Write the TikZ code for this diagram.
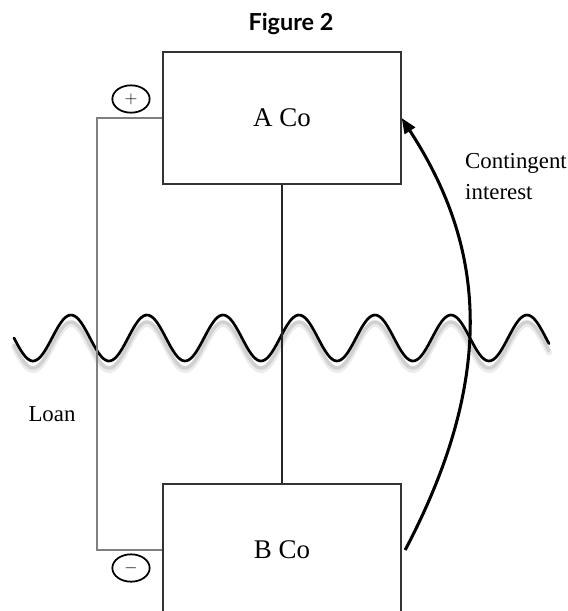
\documentclass[tikz,border=0pt]{standalone}
\usepackage{fontspec}
\setmainfont{Liberation Serif}
\newfontfamily\titlefont{Lato}
\usetikzlibrary{arrows.meta,shapes.geometric}
\tikzset{
  company/.style={draw=black!80, line width=1.1pt, minimum width=7.14cm, minimum height=3.96cm, font=\fontsize{23}{27}\selectfont, fill=none},
  sign/.style={draw=black, line width=1.5pt, ellipse, minimum width=1.12cm, minimum height=0.82cm, inner sep=0pt, font=\fontsize{15}{15}\selectfont},
  label/.style={font=\fontsize{19.5}{27}\selectfont, align=left, inner sep=0pt},
  loanline/.style={draw=black!50, line width=0.9pt},
  link/.style={draw=black!85, line width=0.9pt},
  wave/.style={line width=2.3pt, line cap=round},
  interestarrow/.style={-{Triangle[length=4.6mm,width=3.6mm]}, line width=2.6pt, draw=black}
}
\begin{document}
\begin{tikzpicture}[x=0.03cm, y=-0.03cm]
  \useasboundingbox (0,0) rectangle (568,611);

  \node[font=\titlefont\bfseries\fontsize{20}{24}\selectfont] (title) at (291,24) {Figure 2};

  \node[company] (aco) at (282,118) {A Co};
  \node[company] (bco) at (282,550) {B Co};

  \node[sign] (plus) at (131,99) {$+$};
  \node[sign] (minus) at (131,568) {$-$};

  \node[label] (loan) at (52,414) {Loan};
  \node[label, anchor=north west] (contlabel) at (465,153) {Contingent\\interest};

  % border line, with a soft shadow
  \draw[wave, draw=black!8, line width=5pt] plot[domain=14:549, samples=240] (\x, {347 + 23*sin((\x-14)/76*360)});
  \draw[wave, draw=black!18, line width=3pt] plot[domain=14:549, samples=240] (\x, {345 + 23*sin((\x-14)/76*360)});
  \draw[wave] plot[domain=14:549, samples=240] (\x, {338 + 23*sin((\x-14)/76*360)});

  \coordinate (loanleft) at (97,334);
  \draw[loanline] (aco.west) -| (loanleft) |- (bco.west);
  \draw[link] (aco.south) -- (bco.north);

  \draw[interestarrow] ([xshift=3]bco.east) .. controls (508,355) and (473,228) .. (aco.east);
\end{tikzpicture}
\end{document}
